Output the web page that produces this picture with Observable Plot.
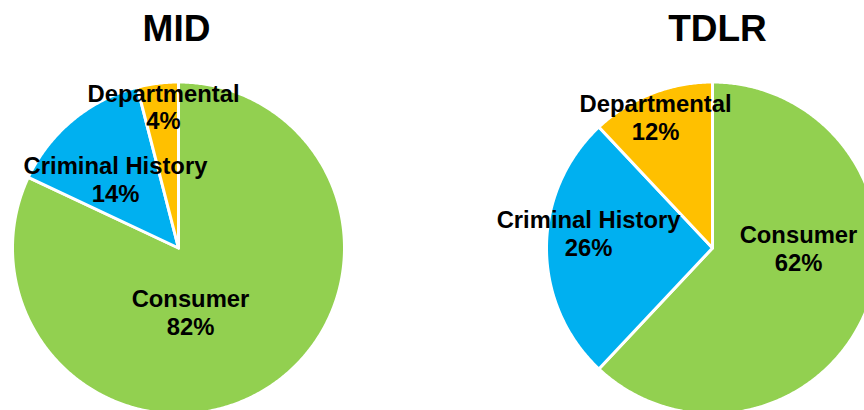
<!DOCTYPE html>
<html><head><meta charset="utf-8">
<script src="https://cdn.jsdelivr.net/npm/d3@7"></script>
<script src="https://cdn.jsdelivr.net/npm/@observablehq/plot@0.6"></script>
<style>html,body{margin:0;padding:0;background:#fff;overflow:hidden}</style>
</head><body><div id="chart"></div>
<script>
// ---- data ----
const pies = ["MID", "TDLR"];
const categories = ["Consumer", "Criminal History", "Departmental"];
const midValues = [82, 14, 4];
const tdlrValues = [62, 26, 12];
const colors = ["#92D050", "#00B0F0", "#FFC000"];

// ---- layout ----
const W = 864, H = 410;
const centersX = [178, 712];
const titleNudge = [-2, 5];
const centerY = 247.5;
const radius = 166;
const labelRadius = [[0.392, 0.563, 0.857], [0.518, 0.752, 0.861]];
const labelShift = [[21.8, -2.8, 1.15], [-21.6, 6.9, -1.9]];

const seriesValues = [midValues, tdlrValues];
const pie = d3.pie().sort(null).value(d => d.value);
const outline = [];
const labels = [];
pies.forEach((p, i) => {
  const rows = categories.map((c, j) => ({pie: p, category: c, value: seriesValues[i][j]}));
  pie(rows).forEach((a, j) => {
    const key = p + "|" + a.data.category;
    const steps = Math.max(2, Math.ceil((a.endAngle - a.startAngle) / (Math.PI / 360)));
    outline.push({key, category: a.data.category, x: centersX[i], y: centerY});
    for (let k = 0; k <= steps; k++) {
      const t = a.startAngle + (a.endAngle - a.startAngle) * k / steps;
      outline.push({key, category: a.data.category,
        x: centersX[i] + radius * Math.sin(t), y: centerY - radius * Math.cos(t)});
    }
    const mid = (a.startAngle + a.endAngle) / 2 + labelShift[i][j] * Math.PI / 180;
    const lr = radius * labelRadius[i][j];
    labels.push({x: centersX[i] + lr * Math.sin(mid), y: centerY - lr * Math.cos(mid),
      text: `${a.data.category}\n${a.data.value}%`});
  });
});

const chart = Plot.plot({
  width: W, height: H, margin: 0,
  x: {domain: [0, W], range: [0, W], axis: null},
  y: {domain: [0, H], range: [0, H], axis: null},
  color: {domain: categories, range: colors},
  style: {fontFamily: "'Liberation Sans', Arial, sans-serif", background: "white", overflow: "hidden"},
  marks: [
    Plot.line(outline, {x: "x", y: "y", z: "key", fill: "category", stroke: "white",
      strokeWidth: 3, curve: "linear-closed", strokeLinejoin: "round"}),
    Plot.text(labels, {x: "x", y: "y", text: "text", fontSize: 23.8, fontWeight: "bold",
      fill: "black", lineHeight: 1.17}),
    Plot.text(pies, {x: (d, i) => centersX[i] + titleNudge[i], y: 28.5, text: d => d, fontSize: 37,
      fontWeight: "bold", fill: "black"})
  ]
});
document.getElementById("chart").appendChild(chart);
</script>
</body></html>
